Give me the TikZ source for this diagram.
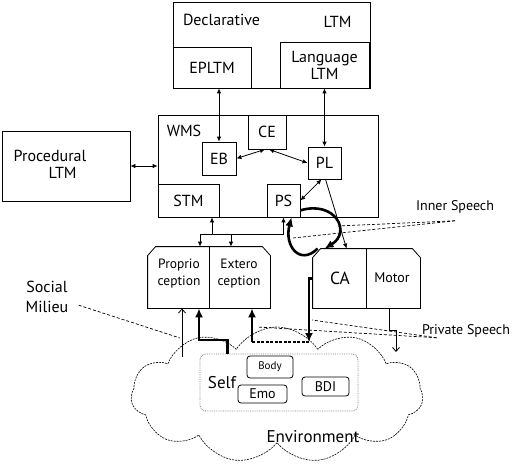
\documentclass[tikz,border=0pt]{standalone}
\usepackage{fontspec}
\setmainfont{PT Sans}
\usetikzlibrary{arrows.meta,shapes.symbols}
\tikzset{>={Latex[length=5pt,width=4.5pt]}}

\begin{document}
\begin{tikzpicture}[x=1pt, y=-1pt, line width=0.8pt,
    every node/.style={inner sep=0pt, align=center, font=\fontsize{16}{17}\selectfont},
    box/.style={draw, rectangle},
    sz/.style 2 args={minimum width=#1, minimum height=#2},
    sbox/.style={draw, rounded corners=3pt},
    lbl/.style={font=\fontsize{14}{17}\selectfont},
    pointer/.style={dash pattern=on 3pt off 2pt, line width=0.7pt},
    heavy/.style={line width=2.6pt, -{Latex[length=9pt,width=8pt]}},
    barb/.style={-{Straight Barb[length=4pt,width=7pt]}}]
  \useasboundingbox (0,0) rectangle (513,468);

  % environment and self
  \node[cloud, draw, cloud puffs=11, cloud puff arc=115, dash pattern=on 2pt off 1pt,
        line width=0.6pt, sz={292}{136}] (env) at (277,395) {};
  \node[font=\fontsize{17}{17}\selectfont] (envtxt) at (313,437) {Environment};
  \node[draw=gray, densely dotted, rounded corners=6pt, sz={158}{57}] (self) at (279,382.5) {};
  \node[font=\fontsize{17}{17}\selectfont] (selftxt) at (222,383) {Self};
  \node[sbox, sz={46}{22}, font=\fontsize{11}{13}\selectfont] (body) at (270,367) {Body};
  \node[sbox, sz={49}{18}, lbl] (emo) at (262.5,394) {Emo};
  \node[sbox, sz={47}{19}, lbl] (bdi) at (325.5,386.5) {BDI};

  % memory
  \node[box, sz={197}{86}] (decl) at (271.5,45) {};
  \node (decltxt) at (221.5,20) {Declarative};
  \node (ltmtxt) at (337.5,22) {LTM};
  \node[box, sz={78}{41}] (epltm) at (212,67.5) {EPLTM};
  \node[box, sz={89}{46}] (lang) at (324.5,65) {Language\\LTM};
  \node[box, sz={128}{70}] (proc) at (66,166) {};
  \node[align=left] (proctxt) at (50,164) {Procedural\\\hspace*{35pt}LTM};

  \node[box, sz={220}{102}] (wms) at (268,166) {};
  \node (wmstxt) at (184,131) {WMS};
  \node[box, sz={38}{34}] (ce) at (267,132) {CE};
  \node[box, sz={34}{33}] (eb) at (219,158.5) {EB};
  \node[box, sz={33}{32}] (pl) at (324.5,163) {PL};
  \node[box, sz={61}{33}] (stm) at (188.5,200.5) {STM};
  \node[box, sz={33}{33}] (ps) at (283.5,200.5) {PS};

  % perception and action
  \node[sz={122}{61}] (perc) at (209,277.5) {};
  \draw ([yshift=-9]perc.north west) -- ([xshift=8]perc.north west) -- ([xshift=-8]perc.north east)
        -- ([yshift=-9]perc.north east) -- (perc.south east) -- (perc.south west) -- cycle;
  \draw (perc.north) -- (perc.south);
  \node[font=\fontsize{13.5}{17}\selectfont] (pro) at (179,274) {Proprio\\ception};
  \node[font=\fontsize{13.5}{17}\selectfont] (ext) at (239,274) {Extero\\ception};
  \node[sz={107}{59}] (camot) at (366.5,278.5) {};
  \draw ([yshift=-9]camot.north west) -- ([xshift=8]camot.north west) -- ([xshift=-8]camot.north east)
        -- ([yshift=-9]camot.north east) -- (camot.south east) -- (camot.south west) -- cycle;
  \draw (camot.north) -- (camot.south);
  \node[font=\fontsize{17.5}{17}\selectfont] (ca) at (340,278) {CA};
  \node[lbl] (motor) at (392,278) {Motor};

  % labels
  \node[lbl] (inner) at (455,207) {Inner Speech};
  \node[lbl] (priv) at (466,331) {Private Speech};
  \node[font=\fontsize{16}{20}\selectfont] (soc) at (47,297) {Social\\Milieu};

  \path[<->] (proc.east) edge (proc.east -| wms.west)
             (eb.north) edge (eb.north |- epltm.south)
             (pl.north) edge (pl.north |- lang.south)
             ([xshift=-2]ce.south) edge (eb.east)
             ([xshift=2]ce.south) edge (pl.west)
             ([xshift=-3]pl.south) edge (ps.east);
  \draw[->] ([xshift=1]pl.south) -- ([xshift=34]camot.north west);

  \coordinate (bus) at (212,234);
  \draw[<-] (stm.south -| bus) -- (bus);
  \draw[->] (bus) -| ([xshift=-9]perc.north);
  \draw[->] ([xshift=22]perc.north |- bus) -- ([xshift=22]perc.north);
  \draw[->] (bus) -| (ps.south);

  % inner loop
  \draw[heavy] ([yshift=7]ps.south east) .. controls (335,200) and (352,232) .. ([xshift=12]camot.north west);
  \draw[heavy] ([xshift=5]camot.north west) .. controls (300,266) and (284,246) .. ([xshift=8]ps.south);

  % environment links
  \coordinate (er) at (309,342);
  \coordinate (el) at (252,342);
  \coordinate (sp) at (199,340);
  \coordinate (pr) at (182,357);
  \coordinate (mo) at (396,352);
  \draw[heavy] (camot.west) -| (er);
  \draw[line width=2.6pt, dash pattern=on 3pt off 1.5pt] (er) -- (el);
  \draw[heavy] (el) -- (el |- perc.south);
  \draw[heavy] ([xshift=28]self.north west) |- (sp) -- (sp |- perc.south);
  \draw[barb] (pr) -- (pr |- perc.south);
  \draw[barb] ([xshift=22.5]camot.south) -- ++(0,22) -| (mo);

  % pointers
  \draw[pointer] ([yshift=-7]inner.south) -- (338,226);
  \draw[pointer] ([yshift=-7]inner.south) -- (293,238);
  \draw[pointer] ([xshift=15]priv.south west) -- (312,320);
  \draw[pointer] ([xshift=15]priv.south west) -- (257,327);
  \draw[pointer] ([xshift=10,yshift=8]soc.south east) -- (180,338);
\end{tikzpicture}
\end{document}
